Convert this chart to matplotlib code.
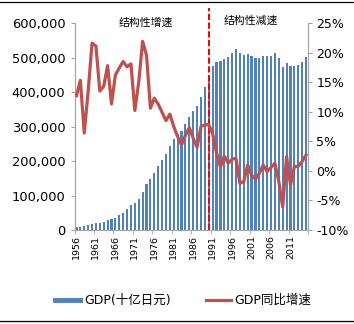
import matplotlib
matplotlib.use('Agg')
import matplotlib.pyplot as plt
from matplotlib.lines import Line2D
from matplotlib.ticker import FuncFormatter, FixedLocator
import numpy as np

plt.rcParams['font.family'] = ['DejaVu Sans', 'Noto Sans CJK SC']

# 日本名义GDP（十亿日元）及同比增速
years = list(range(1956, 2016))
gdp = [8, 10, 11.5, 13.5, 16.5, 19, 21, 24.5, 29, 32, 36, 43, 50, 60, 72, 79, 91,
       111, 133, 148, 166, 185, 203, 221, 243, 264, 277, 288, 306, 327, 346, 359,
       386, 415, 444, 475, 488, 491, 496, 502, 512, 524, 514, 507, 510, 505, 499,
       499, 504, 504, 505, 513, 500, 473, 484, 475, 476, 479, 487, 501]
gdp = [v * 1000 for v in gdp]
growth = [12.7, 15.3, 6.4, 13.4, 21.6, 21.1, 13.5, 14.3, 17.8, 11.3,
          16.2, 17.4, 18.5, 17.6, 18.1, 10.2, 15.0, 21.9, 19.6, 10.6,
          12.3, 11.3, 9.9, 8.5, 9.6, 7.5, 5.8, 4.4, 6.0, 7.3,
          5.5, 4.0, 7.5, 7.8, 7.8, 6.3, 3.0, 0.7, 2.5, 1.3,
          2.0, 2.1, -2.1, -1.8, 1.0, -0.7, -1.4, -0.4, 1.0, -0.1,
          0.6, 1.3, -1.8, -6.1, 2.4, -2.4, 0.7, 0.8, 1.6, 2.7]
split_year = 1990
labels = ['GDP(十亿日元)', 'GDP同比增速']
phase_text = ['结构性增速', '结构性减速']

blue = '#4F81BD'
red = '#C0504D'
grey = '#A6A6A6'

x = np.arange(len(years))

fig = plt.figure(figsize=(3.54, 3.24), dpi=100)
ax = fig.add_axes([0.2105, 0.290, 0.870 - 0.2105, 0.929 - 0.290])
ax2 = ax.twinx()

ax.bar(x, gdp, width=0.55, color=blue, zorder=2)
ax.set_xlim(-0.5, len(years) - 0.5)
ax.set_ylim(0, 600000)
ax.set_yticks(range(0, 600001, 100000))
ax.yaxis.set_major_formatter(FuncFormatter(lambda v, p: '{:,.0f}'.format(v)))

ax2.plot(x, growth, color=red, lw=2.3, zorder=3, solid_joinstyle='round')
ax2.set_ylim(-10, 25)
ax2.set_yticks(range(-10, 26, 5))
ax2.yaxis.set_major_formatter(FuncFormatter(lambda v, p: '{:.0f}%'.format(v)))

# 1990分界线
sx = years.index(split_year)
ax2.plot([sx, sx], [-10, 27.5], color='#FF0000', lw=1.5, ls=(0, (3, 1.2)),
         zorder=2.5, clip_on=False)

# x轴：每5年一个标签
lab_pos = x[::5]
ax.set_xticks(lab_pos)
ax.set_xticklabels([str(years[i]) for i in lab_pos], rotation=90, fontsize=6.8)
ax.xaxis.set_minor_locator(FixedLocator(np.arange(-0.5, len(years), 5)))
ax.tick_params(axis='x', which='major', length=0, pad=3.5)
ax.tick_params(axis='x', which='minor', length=3, color=grey)
ax.tick_params(axis='y', length=3, color=grey, labelsize=9.4, pad=3.5)
ax2.tick_params(axis='y', length=3, color=grey, labelsize=9, pad=3)

for a in (ax, ax2):
    a.spines['top'].set_visible(False)
    for s in ('left', 'right', 'bottom'):
        a.spines[s].set_color(grey)
ax2.spines['bottom'].set_visible(False)

ax2.text(17.8, 25, phase_text[0], ha='center', va='center', fontsize=7.8,
         family=['Noto Sans CJK SC'])
ax2.text(44.9, 25.3, phase_text[1], ha='center', va='center', fontsize=7.8,
         family=['Noto Sans CJK SC'])

handles = [Line2D([], [], color=blue, lw=3.5),
           Line2D([], [], color=red, lw=2.3)]
fig.legend(handles, labels, loc='center', bbox_to_anchor=(0.518, 0.072),
           ncol=2, frameon=False, fontsize=9, handlelength=2.0,
           handletextpad=0.3, columnspacing=2.8)

# 上下分隔线
fig.add_artist(Line2D([0, 1], [1 - 2 / 324, 1 - 2 / 324], color='black', lw=0.9))
fig.add_artist(Line2D([0, 1], [1 - 320.5 / 324, 1 - 320.5 / 324], color='black', lw=0.9))

fig.savefig('out.png', dpi=100)
